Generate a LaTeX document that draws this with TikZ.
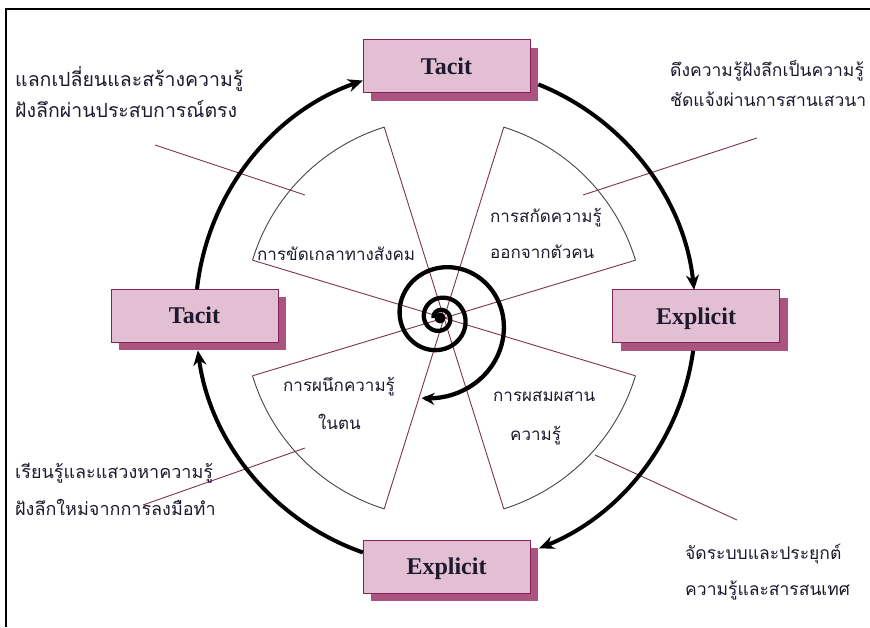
\documentclass[tikz,border=0pt]{standalone}
\usepackage{fontspec}
\setmainfont{Liberation Serif}
\newfontfamily\thaifont[Script=Thai]{Loma}
\usetikzlibrary{arrows.meta,shadows}

\definecolor{boxfill}{RGB}{226,191,211}
\definecolor{boxedge}{RGB}{130,35,85}
\definecolor{boxshade}{RGB}{172,84,128}
\definecolor{spoke}{RGB}{125,50,85}
\definecolor{rim}{RGB}{70,70,70}
\definecolor{ink}{RGB}{30,25,45}

\begin{document}
\begin{tikzpicture}[x=1pt,y=1pt,
  mode/.style={draw=boxedge, line width=1pt, fill=boxfill,
    minimum width=167pt, minimum height=53pt, inner sep=0pt,
    text height=16pt, text depth=0pt, text=ink,
    font=\fontsize{24}{24}\selectfont\bfseries,
    drop shadow={shadow xshift=8pt, shadow yshift=-8pt, fill=boxshade, opacity=1}},
  cyc/.style={line width=4pt, -{Stealth[length=15pt,width=13pt]}},
  spokeline/.style={draw=spoke, line width=0.9pt},
  rimline/.style={draw=rim, line width=0.9pt},
  leader/.style={draw=spoke, line width=0.9pt},
  outer/.style={anchor=base west, inner sep=0pt, text=ink,
    font=\thaifont\fontsize{18}{20}\selectfont},
  outersmall/.style={outer, font=\thaifont\fontsize{17.5}{20}\selectfont},
  outerlarge/.style={outer, font=\thaifont\fontsize{19.5}{20}\selectfont},
  inner/.style={anchor=base west, inner sep=0pt, text=ink,
    font=\thaifont\fontsize{17}{19}\selectfont}]

\useasboundingbox (0,0) rectangle (870,627);
\fill[white] (0,0) rectangle (870,627);

% frame
\draw[line width=2pt] (6,0) -- (6,618) -- (871,618);

\coordinate (C) at (445.5,310.5);  % centre of the cycle
\coordinate (O) at (444,309);      % centre of the four sectors
\coordinate (S) at (440,309);      % centre of the spiral

% four sectors: arcs and the spokes through the centre
\foreach \a in {16.8,107.4,196.8,287.4}{
  \draw[rimline] ([shift={(\a:200)}]O) arc[start angle=\a, end angle=\a+55.8, radius=200];
}
\foreach \a in {16.8,72.6,107.4,163.2}{
  \draw[spokeline] ([shift={(\a:200)}]O) -- ([shift={(\a+180:200)}]O);
}

% leader lines from the captions
\draw[leader] (155,482) -- (305,432);
\draw[leader] (583,432) -- (757,489);
\draw[leader] (143,122) -- (305,179);
\draw[leader] (595,172) -- (737,107);

% the four modes
\node[mode] (tacitTop)   at (446.5,560.5) {Tacit};
\node[mode] (tacitLeft)  at (194.5,311)   {Tacit};
\node[mode] (explRight)  at (696,310.5)   {Explicit};
\node[mode] (explBottom) at (446.5,60.5)  {Explicit};

% clockwise cycle between the modes
\draw[cyc] ([shift={(173.8:250)}]C) arc[start angle=173.8, end angle=109.3, radius=250];
\draw[cyc] ([shift={(68.2:250)}]C)  arc[start angle=68.2,  end angle=6.1,   radius=250];
\draw[cyc] ([shift={(-7.9:250)}]C)  arc[start angle=-7.9,  end angle=-68.0, radius=250];
\draw[cyc] ([shift={(-109.3:250)}]C) arc[start angle=-109.3, end angle=-172.2, radius=250];

% spiral
\fill (S) circle (5.5);
\draw[line width=4.3pt, -{Stealth[length=13pt,width=12pt]}]
  plot[variable=\t, domain=900:-103, samples=240, smooth]
  ({440+40*2.5^((180-\t)/360)*cos(\t)}, {309+40*2.5^((180-\t)/360)*sin(\t)});

% captions
\node[outerlarge] (c1a) at (15,540) {แลกเปลี่ยนและสร้างความรู้};
\node[outerlarge] (c1b) at (15,509) {ฝังลึกผ่านประสบการณ์ตรง};
\node[outersmall] (c2a) at (670,550) {ดึงความรู้ฝังลึกเป็นความรู้};
\node[outersmall] (c2b) at (670,520) {ชัดแจ้งผ่านการสานเสวนา};
\node[outer] (c3a) at (15,149) {เรียนรู้และแสวงหาความรู้};
\node[outer] (c3b) at (15,112) {ฝังลึกใหม่จากการลงมือทำ};
\node[outersmall] (c4a) at (685,68) {จัดระบบและประยุกต์};
\node[outersmall] (c4b) at (685,32) {ความรู้และสารสนเทศ};

% sector labels
\node[inner] (s1)  at (257,366) {การขัดเกลาทางสังคม};
\node[inner] (s2a) at (490,404) {การสกัดความรู้};
\node[inner] (s2b) at (490,368) {ออกจากตัวคน};
\node[inner] (s3a) at (283,235) {การผนึกความรู้};
\node[inner] (s3b) at (318,197) {ในตน};
\node[inner] (s4a) at (493,225) {การผสมผสาน};
\node[inner] (s4b) at (510,186) {ความรู้};
\end{tikzpicture}
\end{document}
